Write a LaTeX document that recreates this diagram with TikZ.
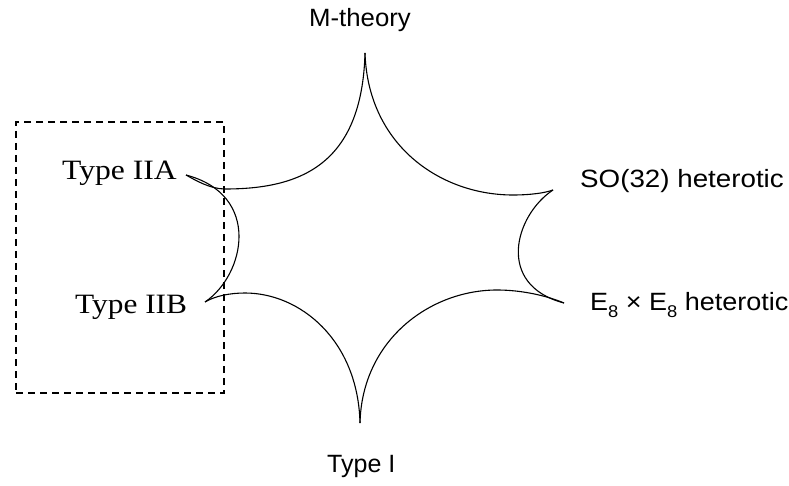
\documentclass[tikz,border=0pt]{standalone}
\usepackage{fontspec}
\setmainfont{Liberation Sans}
\newfontfamily\timesfam{Liberation Serif}
\newcommand{\wide}[2]{\scalebox{#1}[1]{#2}}
\newcommand{\subeight}{\raisebox{-0.28em}{\fontsize{17}{17}\selectfont 8}}
\begin{document}
\begin{tikzpicture}[x=1pt,y=-1pt,
  sanslabel/.style={inner sep=0pt,font=\fontsize{25}{30}\selectfont},
  seriflabel/.style={inner sep=0pt,font=\timesfam\fontsize{28}{32}\selectfont},
  starline/.style={draw=black,line width=1.1pt},
  regionbox/.style={draw=black,line width=1.4pt,dash pattern=on 7pt off 5pt}]
\useasboundingbox (0,0) rectangle (789,486);

% cusps of the moduli space
\coordinate (vT)  at (365,53);
\coordinate (vUR) at (553,190);
\coordinate (vLR) at (564,303);
\coordinate (vB)  at (360,423);
\coordinate (vLL) at (205,302);
\coordinate (vUL) at (186,175);

% the six concave boundary arcs
\draw[starline] (vT) .. controls (368,145) and (440,195) .. (513,195)
                     .. controls (530,195) and (545,193) .. (vUR);
\draw[starline] (vUR) .. controls (515,215) and (495,285) .. (vLR);
\draw[starline] (vLR) .. controls (545,295) and (520,290) .. (497,290)
                      .. controls (430,290) and (362,340) .. (vB);
\draw[starline] (vB) .. controls (358,340) and (300,293) .. (245,293)
                     .. controls (230,293) and (215,296) .. (vLL);
\draw[starline] (vLL) .. controls (245,275) and (262,195) .. (vUL);
\draw[starline] (vUL) .. controls (195,180) and (210,189) .. (225,189)
                      .. controls (300,189) and (362,165) .. (vT);

% dashed region around the type II corner
\node[regionbox,minimum width=208pt,minimum height=271pt,inner sep=0pt] (box) at (120,257.5) {};

% limit labels
\node[sanslabel,anchor=base] (mth) at (360,27) {\wide{1.03}{M-theory}};
\node[sanslabel,anchor=base west] (so32) at (580,188) {\wide{1.11}{SO(32) heterotic}};
\node[sanslabel,anchor=base west] (e8) at (590,310)
  {\wide{1.08}{E\subeight\ × E\subeight\ heterotic}};
\node[sanslabel,anchor=base west] (typeI) at (327,472) {Type I};
\node[seriflabel,anchor=base west] (iia) at (62,180) {\wide{1.13}{Type IIA}};
\node[seriflabel,anchor=base west] (iib) at (75,313) {\wide{1.12}{Type IIB}};
\end{tikzpicture}
\end{document}
